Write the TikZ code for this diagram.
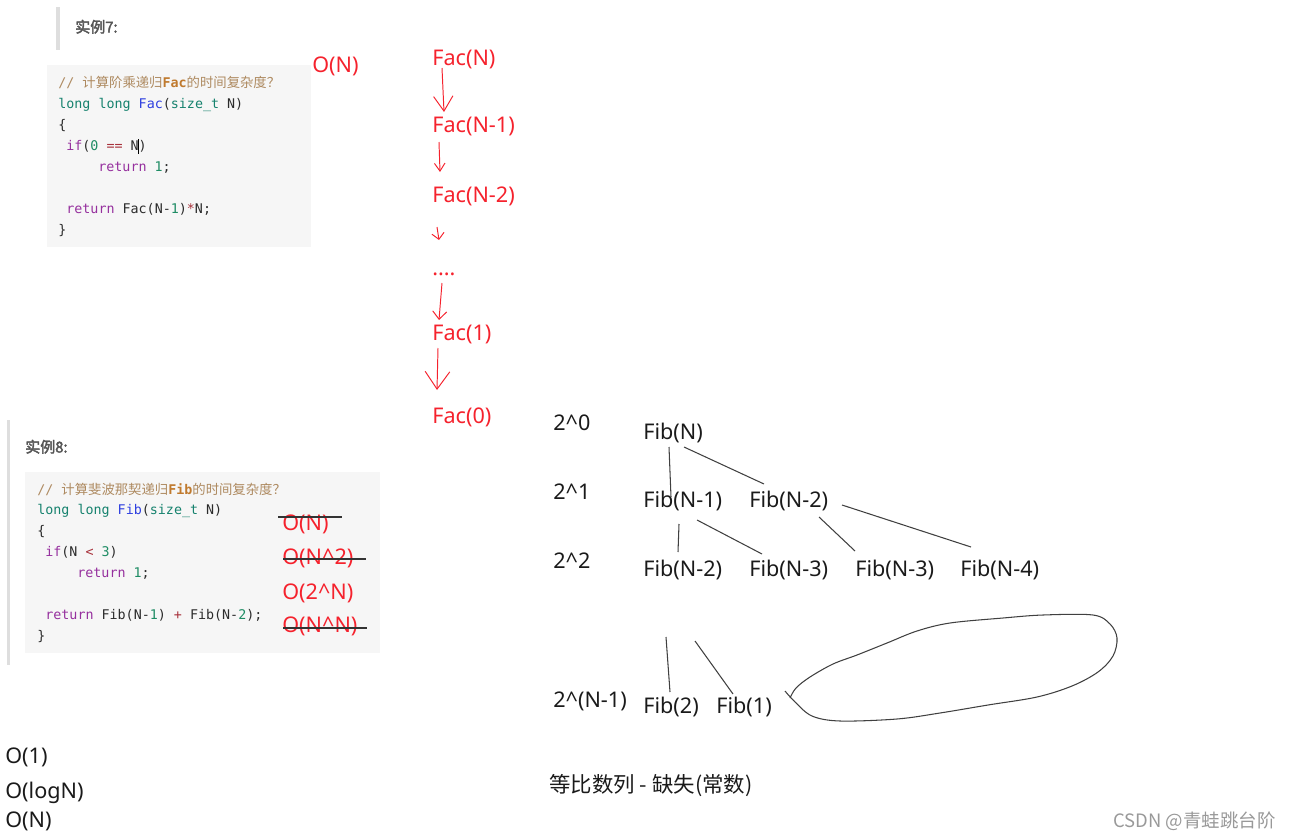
\documentclass[tikz,border=0pt]{standalone}
\usepackage{fontspec}
\setmainfont{Noto Sans}
\setmonofont{DejaVu Sans Mono}
\newfontfamily\cjk{Noto Sans CJK SC}
\newfontfamily\cjkb[FakeBold=2.5]{Noto Sans CJK SC}
\usepackage{tikz}
\usetikzlibrary{positioning,arrows.meta,calc}
\definecolor{handred}{HTML}{F5222D}
\definecolor{inkdark}{HTML}{1A1A1A}
\definecolor{treegray}{HTML}{404040}
\definecolor{strikegray}{HTML}{333333}
\definecolor{labelgray}{HTML}{555555}
\definecolor{barcol}{HTML}{DEDEDE}
\definecolor{codebg}{HTML}{F6F6F6}
\definecolor{codeink}{HTML}{2B2B2B}
\definecolor{cmtcol}{HTML}{AE8A60}
\definecolor{cmtbold}{HTML}{C07A2E}
\definecolor{kwcol}{HTML}{16826E}
\definecolor{fncol}{HTML}{2E3FE0}
\definecolor{ctlcol}{HTML}{96309E}
\definecolor{numcol}{HTML}{1E8C64}
\definecolor{opcol}{HTML}{A8323C}
\definecolor{markgray}{HTML}{999999}
\newcommand\ckw[1]{\textcolor{kwcol}{#1}}
\newcommand\cfn[1]{\textcolor{fncol}{#1}}
\newcommand\cctl[1]{\textcolor{ctlcol}{#1}}
\newcommand\cnum[1]{\textcolor{numcol}{#1}}
\newcommand\cop[1]{\textcolor{opcol}{#1}}
\newcommand\ccmt[1]{\textcolor{cmtcol}{#1}}
\tikzset{
    hand/.style={anchor=west, inner sep=0pt, text height=.95em, text depth=.1em, font=\fontsize{12.3pt}{14pt}\selectfont},
    redtxt/.style={hand, text=handred},
    blktxt/.style={hand, text=inkdark},
    codeln/.style={anchor=west, inner sep=0pt, text height=.75em, text depth=.2em, font=\fontsize{7.6pt}{9pt}\ttfamily, text=codeink},
    exlabel/.style={hand, font=\cjkb\fontsize{8.5pt}{10pt}\selectfont, text=labelgray},
    codebox/.style={fill=codebg, draw=none},
    quotebar/.style={fill=barcol, draw=none},
    callarrow/.style={draw=handred, line width=0.55pt},
    treeline/.style={draw=treegray, line width=0.6pt},
    strikeline/.style={draw=strikegray, line width=0.7pt}
}
\begin{document}
\begin{tikzpicture}[x=0.02cm, y=-0.02cm]
\useasboundingbox (0,0) rectangle (1291,838);

% example 7: factorial
\fill[quotebar] (56,7) rectangle (60,50);
\node[exlabel] (ex7) at (75,25) {实例7:};
\fill[codebox] (47,65) rectangle (311,247);
\node[codeln] (c7a) at (58,83) {\ccmt{// {\cjk 计算阶乘递归}\textbf{\textcolor{cmtbold}{Fac}}{\cjk 的时间复杂度？}}};
\node[codeln] (c7b) at (58,104) {\ckw{long long} \cfn{Fac}(\ckw{size\_t} N)};
\node[codeln] (c7c) at (58,125) {\{};
\node[codeln] (c7d) at (66,146) {\cctl{if}(\cnum{0} \cop{==} N\makebox[0pt]{\color{black}\rule[-.2em]{.5pt}{1.1em}})};
\node[codeln] (c7e) at (98,167) {\cctl{return} \cnum{1};};
\node[codeln] (c7f) at (66,209) {\cctl{return} Fac(N-\cnum{1})\cop{*}N;};
\node[codeln] (c7g) at (58,230) {\}};
\node[redtxt] (bigO7) at (312,65) {O(N)};

% call chain
\node[redtxt] (facN) at (432,58) {Fac(N)};
\node[redtxt] (facNa) at (432,125) {Fac(N-1)};
\node[redtxt] (facNb) at (432,195) {Fac(N-2)};
\node[redtxt] (facDots) at (432,268) {....};
\node[redtxt] (fac1) at (432,333) {Fac(1)};
\node[redtxt] (fac0) at (432,416) {Fac(0)};

\draw[callarrow, -{Straight Barb[length=8.5pt,width=11pt]}] ($(facN.west)+(10,10)$) -- ($(facNa.west)+(12,-13)$);
\draw[callarrow, -{Straight Barb[length=4.5pt,width=6pt]}] ($(facNa.west)+(7,17)$) -- ($(facNb.west)+(8,-23)$);
\draw[callarrow, -{Straight Barb[length=3.5pt,width=7pt]}] ($(facNb.west)+(5,32)$) -- ($(facDots.west)+(7,-28)$);
\draw[callarrow, -{Straight Barb[length=4.5pt,width=8pt]}] ($(facDots.west)+(10,15)$) -- ($(fac1.west)+(7,-13)$);
\draw[callarrow, -{Straight Barb[length=10pt,width=14pt]}] ($(fac1.west)+(6,15)$) -- ($(fac0.west)+(5,-26)$);

% example 8: fibonacci
\fill[quotebar] (7,420) rectangle (10,665);
\node[exlabel] (ex8) at (25,445) {实例8:};
\fill[codebox] (25,472) rectangle (380,653);
\node[codeln] (c8a) at (37,490) {\ccmt{// {\cjk 计算斐波那契递归}\textbf{\textcolor{cmtbold}{Fib}}{\cjk 的时间复杂度？}}};
\node[codeln] (c8b) at (37,510) {\ckw{long long} \cfn{Fib}(\ckw{size\_t} N)};
\node[codeln] (c8c) at (37,531) {\{};
\node[codeln] (c8d) at (45,552) {\cctl{if}(N \cop{<} \cnum{3})};
\node[codeln] (c8e) at (77,573) {\cctl{return} \cnum{1};};
\node[codeln] (c8f) at (45,615) {\cctl{return} Fib(N-\cnum{1}) \cop{+} Fib(N-\cnum{2});};
\node[codeln] (c8g) at (37,636) {\}};

\node[redtxt] (oN) at (282,523) {O(N)};
\node[redtxt] (oNsq) at (282,557) {O(N\^{}2)};
\node[redtxt] (oExp) at (282,592) {O(2\^{}N)};
\node[redtxt] (oNN) at (282,625) {O(N\^{}N)};
\draw[strikeline] ($(oN.west)+(-4,-6)$) -- ($(oN.west)+(60,-6)$);
\draw[strikeline] ($(oNsq.west)+(1,2)$) -- ($(oNsq.west)+(84,2)$);
\draw[strikeline] ($(oNN.west)+(1,3)$) -- ($(oNN.west)+(85,3)$);

% recursion tree
\node[blktxt] (lv0) at (553,423) {2\^{}0};
\node[blktxt] (lv1) at (553,492) {2\^{}1};
\node[blktxt] (lv2) at (553,561) {2\^{}2};
\node[blktxt] (lvN) at (553,700) {2\^{}(N-1)};

\node[blktxt] (fibN) at (643,432) {Fib(N)};
\node[blktxt] (fibNa) at (643,500) {Fib(N-1)};
\node[blktxt] (fibNb) at (749,500) {Fib(N-2)};
\node[blktxt] (fibA) at (643,569) {Fib(N-2)};
\node[blktxt] (fibB) at (749,569) {Fib(N-3)};
\node[blktxt] (fibC) at (855,569) {Fib(N-3)};
\node[blktxt] (fibD) at (960,569) {Fib(N-4)};
\node[blktxt] (fib2) at (643,706) {Fib(2)};
\node[blktxt] (fib1) at (716,706) {Fib(1)};

\draw[treeline] ($(fibN.west)+(26,15)$) -- ($(fibNa.west)+(28,-3)$);
\draw[treeline] ($(fibN.west)+(41,15)$) -- ($(fibNb.west)+(15,-16)$);
\draw[treeline] ($(fibNa.west)+(36,24)$) -- ($(fibA.west)+(35,-17)$);
\draw[treeline] ($(fibNa.west)+(54,20)$) -- ($(fibB.west)+(13,-15)$);
\draw[treeline] ($(fibNb.west)+(70,17)$) -- ($(fibC.west)+(0,-18)$);
\draw[treeline] ($(fibNb.west)+(93,5)$) -- ($(fibD.west)+(11,-22)$);
\draw[treeline] ($(fib2.west)+(23,-69)$) -- ($(fib2.west)+(27,-14)$);
\draw[treeline] ($(fib1.west)+(-21,-65)$) -- ($(fib1.west)+(17,-12)$);

% the missing part
\draw[treeline, line join=round] plot[smooth, tension=0.55] coordinates {
    (785,691) (795,702) (812,716) (840,721) (897,719) (940,713) (988,705)
    (1037,697) (1072,686) (1098,672) (1113,656) (1117,638) (1110,624)
    (1093,615) (1043,615) (1003,618) (950,623) (917,631) (887,643)
    (857,655) (833,664) (810,677) (796,688) (790,698)};

% bottom notes
\node[blktxt] (o1) at (5,756) {O(1)};
\node[blktxt] (ologN) at (5,791) {O(logN)};
\node[blktxt] (olin) at (5,820) {O(N)};
\node[blktxt, font=\cjk\fontsize{12.2pt}{14pt}\selectfont] (gap) at (549,785) {等比数列 - 缺失(常数)};
\node[hand, anchor=east, text=markgray, font=\cjk\fontsize{10.5pt}{12pt}\selectfont] (mark) at (1276,820) {CSDN @青蛙跳台阶};

\end{tikzpicture}
\end{document}
